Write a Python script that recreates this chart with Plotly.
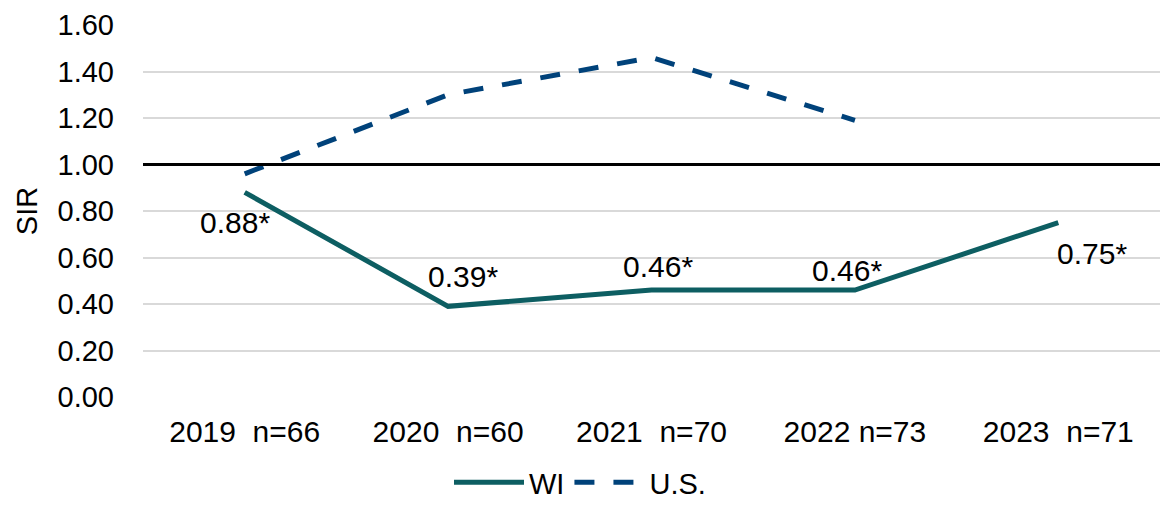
import plotly.graph_objects as go

# SIR by year, Wisconsin vs national
years = ["2019  n=66", "2020  n=60", "2021  n=70", "2022 n=73", "2023  n=71"]
wi_sir = [0.88, 0.39, 0.46, 0.46, 0.75]
us_sir = [0.96, 1.30, 1.46, 1.19, None]
wi_labels = ["0.88*", "0.39*", "0.46*", "0.46*", "0.75*"]
y_ticks = [0.0, 0.2, 0.4, 0.6, 0.8, 1.0, 1.2, 1.4, 1.6]

WI_COLOR = "#0d5e62"
US_COLOR = "#00427a"
FONT = "Liberation Sans, Arial, sans-serif"

fig = go.Figure()
fig.add_trace(go.Scatter(
    x=years, y=wi_sir, name="WI", mode="lines",
    line=dict(color=WI_COLOR, width=5),
))
fig.add_trace(go.Scatter(
    x=years, y=us_sir, name="U.S.", mode="lines",
    line=dict(color=US_COLOR, width=5, dash="20px,19px"),
))

# value labels placed around each WI point
label_offsets = [(-10, -30), (15, 30), (6, 24), (-8, 20), (34, -31)]
for yr, v, txt, (dx, dy) in zip(years, wi_sir, wi_labels, label_offsets):
    fig.add_annotation(
        x=yr, y=v, text=txt, showarrow=False,
        xshift=dx, yshift=dy,
        font=dict(family=FONT, size=30, color="#000000"),
    )

# benchmark line at SIR = 1.0
fig.add_shape(
    type="line", xref="paper", x0=0, x1=1, yref="y", y0=1.0, y1=1.0,
    line=dict(color="#000000", width=3), layer="above",
)

fig.update_layout(
    width=1160, height=508,
    margin=dict(l=143, r=0, t=25, b=111),
    paper_bgcolor="white", plot_bgcolor="white",
    font=dict(family=FONT, size=30, color="#000000"),
    showlegend=True,
    legend=dict(
        orientation="h", x=0.5, xanchor="center", xref="container",
        y=0.0, yanchor="bottom", yref="container",
        font=dict(size=29), itemwidth=70,
    ),
    xaxis=dict(
        range=[-0.5, 4.5],
        showgrid=False, showline=False, zeroline=False,
        tickfont=dict(size=30),
        ticklabelstandoff=14,
    ),
    yaxis=dict(
        range=[0, 1.6], tickvals=y_ticks,
        ticktext=[f"{t:.2f}" for t in y_ticks],
        showgrid=True, gridcolor="#d9d9d9", gridwidth=1.5,
        zeroline=False, showline=False,
        tickfont=dict(size=29),
        ticklabelstandoff=28,
        title=dict(text="SIR", font=dict(size=29), standoff=11),
    ),
)

fig.write_html("out.html")
